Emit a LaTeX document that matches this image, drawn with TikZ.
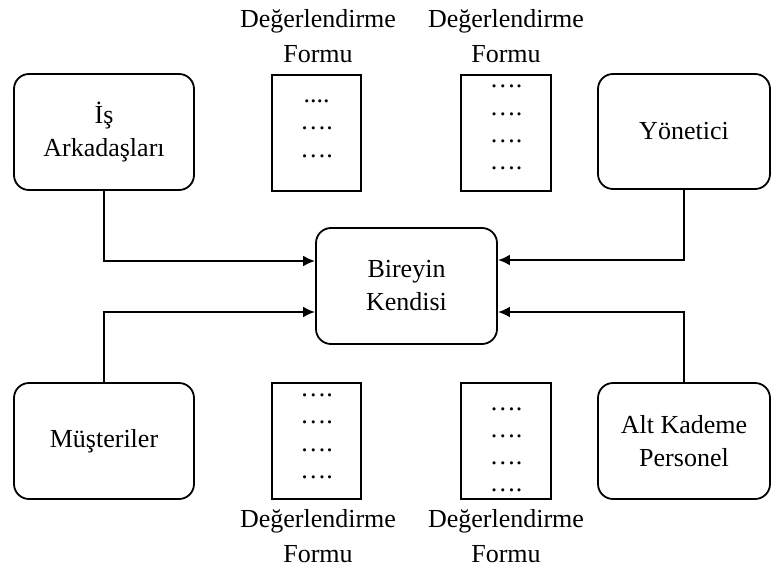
\documentclass[tikz,border=0pt]{standalone}
\usepackage{fontspec}
\setmainfont{Liberation Serif}
\usetikzlibrary{arrows.meta,calc}

\begin{document}
\begin{tikzpicture}[x=1pt,y=-1pt,
  txt/.style={font=\fontsize{26}{33}\selectfont, align=center},
  party/.style={draw, line width=1.8pt, rounded corners=15pt, txt,
    minimum width=180pt, minimum height=116pt, inner sep=0pt},
  formbox/.style={draw, line width=1.4pt, minimum width=89pt,
    minimum height=116pt, inner sep=0pt},
  formlabel/.style={font=\fontsize{26}{35}\selectfont, align=center, inner sep=0pt},
  dotline/.style={font=\fontsize{26}{27}\selectfont, inner sep=0pt, anchor=base},
  conn/.style={line width=2.4pt, -{Latex[length=12pt,width=11pt]}}
]
\useasboundingbox (0,0) rectangle (771,570);

% evaluated person in the middle
\node[party, minimum width=181pt] (self) at (406.5,286) {Bireyin\\Kendisi};

% the four rating sources
\node[party] (peers) at (104,132) {İş\\Arkadaşları};
\node[party, minimum width=172pt, minimum height=115pt] (boss) at (684,131.5) {Yönetici};
\node[party] (cust) at (104,441) {Müşteriler};
\node[party, minimum width=172pt] (sub) at (684,441) {Alt Kademe\\Personel};

% connectors into the evaluated person
\draw[conn] (peers.south) |- ($(self.west)+(0,-25)$);
\draw[conn] (cust.north)  |- ($(self.west)+(0,26)$);
\draw[conn] (boss.south)  |- ($(self.east)+(0,-26)$);
\draw[conn] (sub.north)   |- ($(self.east)+(0,26)$);

% evaluation forms
\node[formbox] (f1) at (316.5,133) {};
\node[formbox, minimum width=90pt] (f2) at (506,133) {};
\node[formbox] (f3) at (316.5,441) {};
\node[formbox, minimum width=90pt] (f4) at (506,441) {};

\node[formlabel, anchor=north] (l1) at (318,9) {Değerlendirme\\Formu};
\node[formlabel, anchor=north] (l2) at (506,9) {Değerlendirme\\Formu};
\node[formlabel, anchor=north] (l3) at (318,509) {Değerlendirme\\Formu};
\node[formlabel, anchor=north] (l4) at (506,509) {Değerlendirme\\Formu};

% dotted entry lines on each form
\node[dotline] at (316.5,102) {....};
\node[dotline] at (316.5,129.5) {….};
\node[dotline] at (316.5,157) {….};

\foreach \y in {87.5,115,142,169.5} \node[dotline] at (506,\y) {….};
\foreach \y in {396,423.5,451,478.5} \node[dotline] at (316.5,\y) {….};
\foreach \y in {410,437,464,491} \node[dotline] at (506,\y) {….};
\end{tikzpicture}
\end{document}
